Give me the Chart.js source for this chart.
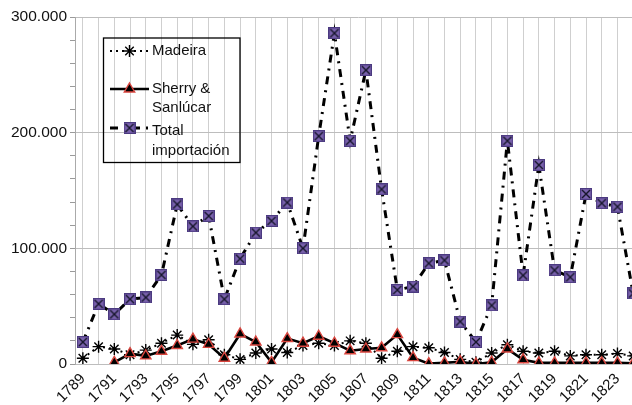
<!DOCTYPE html>
<html><head><meta charset="utf-8">
<script src="https://cdn.jsdelivr.net/npm/chart.js@4"></script>
<style>
html,body{margin:0;padding:0;overflow:hidden;background:#fff;width:632px;height:405px}
#wrap{width:652px;height:405px;position:relative}
</style>
</head><body><div id="wrap"><canvas id="c"></canvas></div>
<script>
const years = ['1789','1790','1791','1792','1793','1794','1795','1796','1797','1798','1799','1800','1801','1802','1803','1804','1805','1806','1807','1808','1809','1810','1811','1812','1813','1814','1815','1816','1817','1818','1819','1820','1821','1822','1823','1824'];
const madeira = [5000,15000,13000,8000,12000,18000,25000,17000,21000,8000,4000,9500,13000,10000,16000,18000,16000,20000,18000,5000,11000,15000,14000,10000,4000,1500,9500,16700,11000,9500,11000,7000,8000,8000,9000,7000];
const sherry = [null,null,1400,9000,7000,11000,16000,21500,17000,5000,26000,19000,1400,22000,18000,24000,18000,11500,13000,14000,25400,5500,300,1000,2000,0,1500,13000,3700,1000,1000,1000,1000,1000,1000,500];
const total = [19000,52000,43000,56000,57500,77000,138000,119000,128000,56000,91000,113600,123700,139600,100000,197000,286000,193000,254000,151000,64000,67000,87000,89600,36700,19000,50600,193000,76600,172000,81000,75000,147000,139000,136000,61000];
const seriesNames = ['Madeira', ['Sherry &','Sanlúcar'], ['Total','importación']];
const yTickValues = [0,100000,200000,300000];

const FONT = "'Liberation Sans', Arial, Helvetica, sans-serif";

function makeSquare(){
  const s = 12, cv = document.createElement('canvas');
  cv.width = s; cv.height = s;
  const g = cv.getContext('2d');
  g.fillStyle = '#7a62ad'; g.fillRect(0,0,s,s);
  g.strokeStyle = '#4b3a80'; g.lineWidth = 1.2; g.strokeRect(0.6,0.6,s-1.2,s-1.2);
  g.strokeStyle = '#15152a'; g.lineWidth = 1.4;
  g.beginPath(); g.moveTo(2,2); g.lineTo(s-2,s-2); g.moveTo(s-2,2); g.lineTo(2,s-2); g.stroke();
  return cv;
}
const sq = makeSquare();

const legendPlugin = {
  id:'boxLegend',
  afterDatasetsDraw(chart){
    const ctx = chart.ctx;
    ctx.save();
    ctx.strokeStyle = '#000'; ctx.lineWidth = 1.3;
    ctx.strokeRect(103.5, 38, 136.5, 124.5);
    ctx.font = '15px ' + FONT;
    ctx.fillStyle = '#111'; ctx.textBaseline = 'middle'; ctx.textAlign = 'left';
    const items = [
      {y:51, lines:[51], ds:0},
      {y:89, lines:[89,108], ds:1},
      {y:128, lines:[131,150.5], ds:2}
    ];
    items.forEach((it,i)=>{
      const ds = chart.data.datasets[it.ds];
      ctx.save();
      ctx.strokeStyle = '#000';
      ctx.lineWidth = ds.borderWidth;
      ctx.setLineDash(ds.borderDash || []);
      ctx.beginPath(); ctx.moveTo(110, it.y); ctx.lineTo(149, it.y); ctx.stroke();
      ctx.restore();
      ctx.save();
      ctx.fillStyle = ds.pointBackgroundColor; ctx.strokeStyle = ds.pointBorderColor;
      ctx.lineWidth = ds.pointBorderWidth;
      Chart.helpers.drawPoint(ctx, {pointStyle: ds.pointStyle, radius: ds.pointRadius, borderWidth: ds.pointBorderWidth, rotation:0}, 129.5, it.y);
      ctx.restore();
      const names = Array.isArray(seriesNames[i]) ? seriesNames[i] : [seriesNames[i]];
      names.forEach((t,k)=> ctx.fillText(t, 152, it.lines[k]));
    });
    ctx.restore();
  }
};

new Chart(document.getElementById('c'), {
  type:'line',
  data:{
    labels: years,
    datasets:[
      {label:'Madeira', data: madeira, borderColor:'#000', borderWidth:2, borderDash:[2,4],
       pointStyle:'star', pointRadius:6, pointBorderWidth:1.4, pointBorderColor:'#000', pointBackgroundColor:'#000', order:3, tension:0},
      {label:'Sherry & Sanlúcar', data: sherry, borderColor:'#000', borderWidth:2.6,
       pointStyle:'triangle', pointRadius:6, pointBorderWidth:1.4, pointBorderColor:'#d9463f', pointBackgroundColor:'#000', order:2, tension:0},
      {label:'Total importación', data: total, borderColor:'#000', borderWidth:3, borderDash:[8,6,2,6],
       pointStyle: sq, pointRadius:6, pointBorderWidth:1, pointBorderColor:'#4b3a80', pointBackgroundColor:'#7a62ad', order:1, tension:0}
    ]
  },
  options:{
    responsive:true, maintainAspectRatio:false, animation:false,
    devicePixelRatio: 1,
    layout:{padding:{top:17,left:0,right:0,bottom:0}},
    plugins:{legend:{display:false}, tooltip:{enabled:false}},
    scales:{
      x:{
        offset:true,
        grid:{offset:false, color:'#cfcfcf', lineWidth:1, drawTicks:false},
        border:{display:false},
        ticks:{autoSkip:false, maxRotation:45, minRotation:45, padding:6,
          color:'#111', font:{family:FONT, size:15},
          callback:function(v,i){ return i%2===0 ? this.getLabelForValue(v) : ''; }},
        afterFit(s){ s.height = 41; }
      },
      y:{
        min:0, max:300000,
        grid:{color:(c)=> yTickValues.includes(c.tick.value) ? '#bdbdbd' : 'rgba(0,0,0,0)',
              tickColor:'#9a9a9a', tickLength:5, lineWidth:1},
        border:{display:true, color:'#aaaaaa', width:1},
        ticks:{stepSize:20000, autoSkip:false, padding:3, color:'#111', font:{family:FONT, size:15.5},
          callback:(v)=> yTickValues.includes(v) ? (v===0 ? '0' : (v/1000)+'.000') : ''},
        afterFit(s){ s.width = 75; }
      }
    }
  },
  plugins:[legendPlugin]
});
</script>
</body></html>
